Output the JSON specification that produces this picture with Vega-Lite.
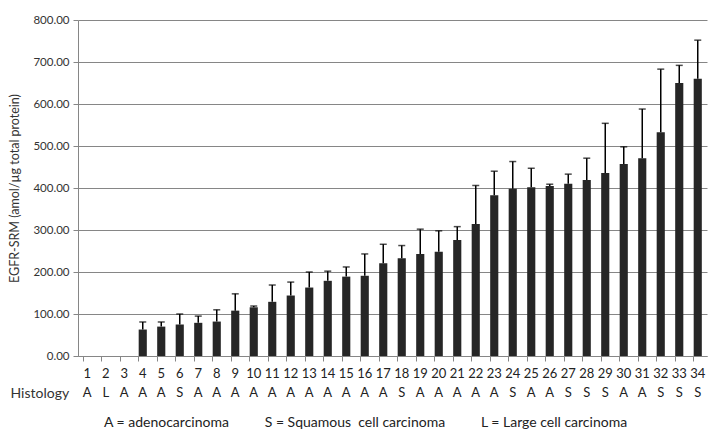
{
  "$schema": "https://vega.github.io/schema/vega-lite/v6.json",
  "autosize": "none",
  "width": 629,
  "height": 336,
  "padding": {"left": 78, "top": 20, "right": 6, "bottom": 83},
  "background": "white",
  "config": {
    "font": "Lato",
    "view": {"stroke": null},
    "axis": {"labelColor": "#333333", "titleColor": "#333333", "domainColor": "#868686", "tickColor": "#868686", "gridColor": "#868686", "gridOpacity": 1, "titleFontWeight": "normal"}
  },
  "title": {
    "text": "A = adenocarcinoma\u00a0\u00a0\u00a0\u00a0\u00a0\u00a0\u00a0\u00a0\u00a0\u00a0S = Squamous\u00a0\u00a0cell carcinoma\u00a0\u00a0\u00a0\u00a0\u00a0\u00a0\u00a0\u00a0\u00a0\u00a0L = Large cell carcinoma",
    "orient": "bottom",
    "anchor": "start",
    "dx": 95,
    "offset": 16,
    "fontSize": 14,
    "fontWeight": "normal",
    "color": "#222222",
    "font": "Lato"
  },
  "data": {
    "values": [
      {"case_histology": "1|A", "value": null, "upper": null},
      {"case_histology": "2|L", "value": null, "upper": null},
      {"case_histology": "3|A", "value": null, "upper": null},
      {"case_histology": "4|A", "value": 63, "upper": 81},
      {"case_histology": "5|A", "value": 70, "upper": 81},
      {"case_histology": "6|S", "value": 75, "upper": 100},
      {"case_histology": "7|A", "value": 79, "upper": 95},
      {"case_histology": "8|A", "value": 82, "upper": 110},
      {"case_histology": "9|A", "value": 108, "upper": 148},
      {"case_histology": "10|A", "value": 116, "upper": 119},
      {"case_histology": "11|A", "value": 129, "upper": 169},
      {"case_histology": "12|A", "value": 144, "upper": 176},
      {"case_histology": "13|A", "value": 163, "upper": 200},
      {"case_histology": "14|A", "value": 179, "upper": 202},
      {"case_histology": "15|A", "value": 189, "upper": 212},
      {"case_histology": "16|A", "value": 191, "upper": 243},
      {"case_histology": "17|A", "value": 221, "upper": 266},
      {"case_histology": "18|S", "value": 233, "upper": 263},
      {"case_histology": "19|A", "value": 243, "upper": 302},
      {"case_histology": "20|A", "value": 248, "upper": 298},
      {"case_histology": "21|A", "value": 276, "upper": 308},
      {"case_histology": "22|A", "value": 314, "upper": 406},
      {"case_histology": "23|A", "value": 383, "upper": 440},
      {"case_histology": "24|S", "value": 398, "upper": 463},
      {"case_histology": "25|A", "value": 402, "upper": 447},
      {"case_histology": "26|A", "value": 405, "upper": 409},
      {"case_histology": "27|S", "value": 410, "upper": 433},
      {"case_histology": "28|S", "value": 419, "upper": 471},
      {"case_histology": "29|S", "value": 436, "upper": 554},
      {"case_histology": "30|A", "value": 457, "upper": 498},
      {"case_histology": "31|A", "value": 471, "upper": 588},
      {"case_histology": "32|S", "value": 533, "upper": 683},
      {"case_histology": "33|S", "value": 650, "upper": 692},
      {"case_histology": "34|S", "value": 660, "upper": 752}
    ]
  },
  "encoding": {
    "x": {
      "field": "case_histology",
      "type": "ordinal",
      "sort": null,
      "scale": {
        "domain": ["1|A","2|L","3|A","4|A","5|A","6|S","7|A","8|A","9|A","10|A","11|A","12|A","13|A","14|A","15|A","16|A","17|A","18|S","19|A","20|A","21|A","22|A","23|A","24|S","25|A","26|A","27|S","28|S","29|S","30|A","31|A","32|S","33|S","34|S"],
        "paddingInner": 0.56,
        "paddingOuter": 0.28
      },
      "axis": {
        "title": "Histology",
        "titleAngle": 0,
        "titleX": -68,
        "titleY": 37,
        "titleAlign": "left",
        "titleBaseline": "middle",
        "titleFontSize": 14,
        "labelExpr": "split(datum.label, '|')",
        "labelAngle": 0,
        "labelFontSize": 13,
        "labelLineHeight": 19,
        "labelPadding": 6,
        "labelColor": "#222222",
        "tickSize": 5,
        "bandPosition": 0
      }
    }
  },
  "layer": [
    {
      "mark": {"type": "bar", "color": "#262626"},
      "encoding": {
        "y": {
          "field": "value",
          "type": "quantitative",
          "scale": {"domain": [0, 800]},
          "axis": {
            "title": "EGFR-SRM (amol/\u00b5g total protein)",
            "titleFontSize": 12.5,
            "titlePadding": 11,
            "values": [0, 100, 200, 300, 400, 500, 600, 700, 800],
            "format": ".2f",
            "labelFontSize": 11.5,
            "tickSize": 5,
            "labelPadding": 4
          }
        }
      }
    },
    {
      "mark": {"type": "rule", "color": "black", "strokeWidth": 1.5},
      "encoding": {
        "y": {"field": "value", "type": "quantitative"},
        "y2": {"field": "upper"}
      }
    },
    {
      "mark": {"type": "tick", "color": "black", "size": 7, "thickness": 1.5},
      "encoding": {
        "y": {"field": "upper", "type": "quantitative"}
      }
    }
  ]
}
